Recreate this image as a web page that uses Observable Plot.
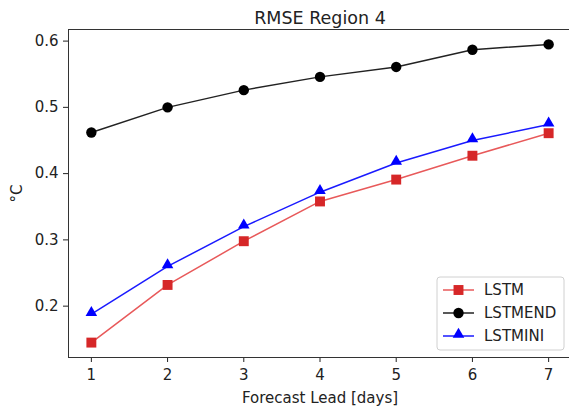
<!DOCTYPE html>
<html>
<head>
<meta charset="utf-8">
<script src="https://cdn.jsdelivr.net/npm/d3@7"></script>
<script src="https://cdn.jsdelivr.net/npm/@observablehq/plot@0.6"></script>
<style>
  html, body { margin: 0; padding: 0; background: #fff; overflow: hidden; }
  #chart svg { display: block; }
</style>
</head>
<body>
<div id="chart"></div>
<script>
const days = [1, 2, 3, 4, 5, 6, 7];
const lstm = [0.145, 0.232, 0.298, 0.358, 0.391, 0.427, 0.461];
const lstmEnd = [0.462, 0.500, 0.526, 0.546, 0.561, 0.587, 0.595];
const lstmIni = [0.188, 0.260, 0.320, 0.372, 0.416, 0.450, 0.474];
const seriesNames = ["LSTM", "LSTMEND", "LSTMINI"];
const seriesColors = ["#d62728", "#000000", "#0000ff"];
const lineColors = ["#e8595a", "#222222", "#1a1aff"];
const seriesSymbols = ["square", "circle", "triangle"];
const yTicks = [0.2, 0.3, 0.4, 0.5, 0.6];
const titleText = "RMSE Region 4";
const xLabel = "Forecast Lead [days]";
const yLabel = "°C";

const valuesBySeries = [lstm, lstmEnd, lstmIni];
const rows = [];
seriesNames.forEach((s, i) => days.forEach((d, j) => rows.push({series: s, day: d, value: valuesBySeries[i][j]})));

const allVals = valuesBySeries.flat();
const yMin = d3.min(allVals), yMax = d3.max(allVals);
const yPad = (yMax - yMin) * 0.05;
const xPad = (d3.max(days) - d3.min(days)) * 0.05;

const font = "DejaVu Sans, sans-serif";
const symR = {square: 5.6, circle: 5.2, triangle: 4.3};
const symDy = {square: 0, circle: 0, triangle: -1.5};
const marks = [
  Plot.frame({stroke: "#333", strokeWidth: 1}),
];
seriesNames.forEach((s, i) => {
  const data = rows.filter(r => r.series === s);
  const sym = seriesSymbols[i];
  marks.push(Plot.line(data, {x: "day", y: "value", stroke: lineColors[i], strokeWidth: 1.5}));
  marks.push(Plot.dot(data, {x: "day", y: "value", symbol: () => sym, r: symR[sym], fill: seriesColors[i], stroke: "none", dy: symDy[sym]}));
});
marks.push(Plot.text([titleText], {frameAnchor: "top", lineAnchor: "bottom", dy: -6, fontSize: 17.5, fill: "#222", fontFamily: font}));

const svg = Plot.plot({
  width: 569,
  height: 409,
  marginTop: 29,
  marginBottom: 52,
  marginLeft: 68,
  marginRight: -2,
  style: {fontFamily: font, fontSize: "15px", color: "#222", background: "#fff"},
  symbol: {type: "identity"},
  x: {domain: [d3.min(days) - xPad, d3.max(days) + xPad], ticks: days, tickFormat: d3.format("d"), tickSize: 5, tickPadding: 7, label: xLabel, labelAnchor: "center", labelArrow: "none", labelOffset: 45},
  y: {domain: [yMin - yPad, yMax + yPad], ticks: yTicks, tickFormat: d3.format(".1f"), tickSize: 5, tickPadding: 5, label: yLabel, labelAnchor: "center", labelArrow: "none", labelOffset: 57},
  marks
});
document.getElementById("chart").appendChild(svg);

// Legend (lower right, inside frame)
const root = d3.select(svg);
const lg = root.append("g").attr("font-family", font).attr("font-size", 15).attr("text-anchor", "start");
const bx = 437, by = 277, bw = 127, bh = 73;
lg.append("rect").attr("x", bx).attr("y", by).attr("width", bw).attr("height", bh)
  .attr("rx", 3).attr("fill", "#fff").attr("fill-opacity", 0.85).attr("stroke", "#d0d0d0");
seriesNames.forEach((s, i) => {
  const cy = 290 + i * 23;
  const symName = seriesSymbols[i];
  lg.append("line").attr("x1", 443).attr("x2", 474).attr("y1", cy).attr("y2", cy)
    .attr("stroke", lineColors[i]).attr("stroke-width", 1.5);
  const sym = {square: d3.symbolSquare, circle: d3.symbolCircle, triangle: d3.symbolTriangle}[symName];
  lg.append("path").attr("d", d3.symbol(sym, Math.PI * symR[symName] * symR[symName])())
    .attr("transform", `translate(458.5,${cy + symDy[symName]})`)
    .attr("fill", seriesColors[i]);
  lg.append("text").attr("x", 484).attr("y", cy).attr("dy", "0.35em").attr("fill", "#222").text(s);
});
</script>
</body>
</html>
